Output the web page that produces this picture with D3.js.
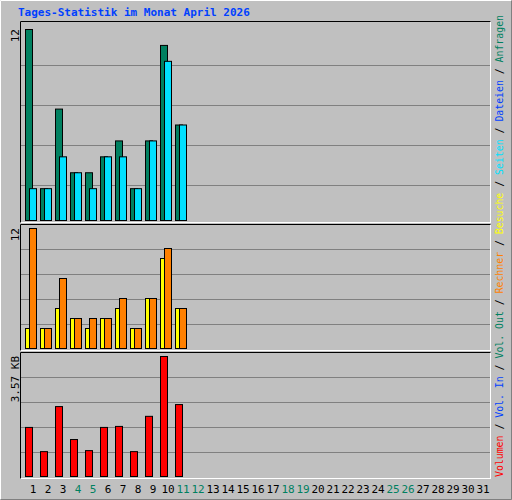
<!DOCTYPE html>
<html><head><meta charset="utf-8">
<script src="https://cdn.jsdelivr.net/npm/d3@7"></script>
<style>body{margin:0;background:#fff}svg text{font-family:"DejaVu Sans Mono",monospace}</style>
</head><body>
<div id="chart"></div>
<script>
var days = d3.range(1, 32)
var weekend = [4, 5, 11, 12, 18, 19, 25, 26]
var hits = [12, 2, 7, 3, 3, 4, 5, 2, 5, 11, 6]
var files = [2, 2, 4, 3, 2, 4, 4, 2, 5, 10, 6]
var visits = [2, 2, 4, 3, 2, 3, 4, 2, 5, 9, 4]
var sites = [12, 2, 7, 3, 3, 3, 5, 2, 5, 10, 4]
var volume = [1.46, 0.74, 2.08, 1.10, 0.77, 1.46, 1.49, 0.74, 1.79, 3.57, 2.14]

var svg = d3.select("#chart").append("svg").attr("width", 512).attr("height", 500)

// bevelled background
svg.append("rect").attr("width", 512).attr("height", 500).attr("fill", "#c0c0c0")
svg.append("path").attr("d", "M0.5,499.5V0.5H511.5").attr("stroke", "#fff").attr("fill", "none")
svg.append("path").attr("d", "M0.5,499.5H511.5V0.5").attr("stroke", "#808080").attr("fill", "none")

svg.append("text").attr("x", 18).attr("y", 16).attr("fill", "#0040ff")
    .style("font-size", "11px").style("font-weight", "bold")
    .text("Tages-Statistik im Monat April 2026")

var x = d3.scaleLinear().domain([1, 31]).range([25, 475])

var panels = [
    {top: 21, bottom: 222, y0: 220, y1: 29, max: 12, grid: [65, 105, 145, 185], label: "12", series: [[hits, "#008060"], [files, "#00e0ff"]]},
    {top: 224, bottom: 350, y0: 348, y1: 228, max: 12, grid: [249, 274, 299, 324], label: "12", series: [[visits, "#ffff00"], [sites, "#ff8000"]]},
    {top: 352, bottom: 478, y0: 476, y1: 356, max: 3.57, grid: [377, 402, 427, 452], label: "3.57 KB", series: [[volume, "#ff0000"]]}
]

panels.forEach(function(p) {
    svg.append("rect").attr("x", 20.5).attr("y", p.top + 0.5)
        .attr("width", 470).attr("height", p.bottom - p.top)
        .attr("fill", "none").attr("stroke", "#fff")
    svg.append("path").attr("d", "M20.5," + (p.bottom + 0.5) + "V" + (p.top + 0.5) + "H490.5")
        .attr("stroke", "#000").attr("fill", "none")
    svg.selectAll(null).data(p.grid).enter().append("line")
        .attr("x1", 21).attr("x2", 490).attr("y1", function(d) { return d + 0.5 }).attr("y2", function(d) { return d + 0.5 })
        .attr("stroke", "#808080")

    var y = d3.scaleLinear().domain([0, p.max]).range([p.y0, p.y1])
    p.series.forEach(function(s, si) {
        svg.selectAll(null).data(s[0]).enter().append("rect")
            .attr("x", function(d, i) { return x(i + 1) + si * 4 + 0.5 })
            .attr("y", function(d) { return y(d) + 0.5 })
            .attr("width", 7)
            .attr("height", function(d) { return p.y0 - y(d) })
            .attr("fill", s[1]).attr("stroke", "#000")
    })
    svg.append("text").attr("transform", "translate(19," + p.y1 + ") rotate(-90)")
        .attr("text-anchor", "end").attr("fill", "#000").style("font-size", "11px")
        .text(p.label)
})

svg.selectAll(null).data(days).enter().append("text")
    .attr("x", function(d) { return x(d) + 8 }).attr("y", 493)
    .attr("text-anchor", "middle").style("font-size", "11px")
    .attr("fill", function(d) { return weekend.indexOf(d) >= 0 ? "#008060" : "#000" })
    .text(function(d) { return d })

var legend = [["Volumen", "#ff0000"], ["/", "#000"], ["Vol. In", "#0040ff"], ["/", "#000"], ["Vol. Out", "#008060"], ["/", "#000"],
    ["Rechner", "#ff8000"], ["/", "#000"], ["Besuche", "#ffff00"], ["/", "#000"], ["Seiten", "#00e0ff"], ["/", "#000"],
    ["Dateien", "#0040ff"], ["/", "#000"], ["Anfragen", "#008060"]]
var lt = svg.append("text").attr("transform", "translate(503,477) rotate(-90)")
    .style("font-size", "10px").attr("xml:space", "preserve")
    .attr("textLength", 462).attr("lengthAdjust", "spacingAndGlyphs")
lt.selectAll("tspan").data(legend).enter().append("tspan")
    .attr("fill", function(d) { return d[1] }).text(function(d, i) { return i ? " " + d[0] : d[0] })
</script>
</body></html>
